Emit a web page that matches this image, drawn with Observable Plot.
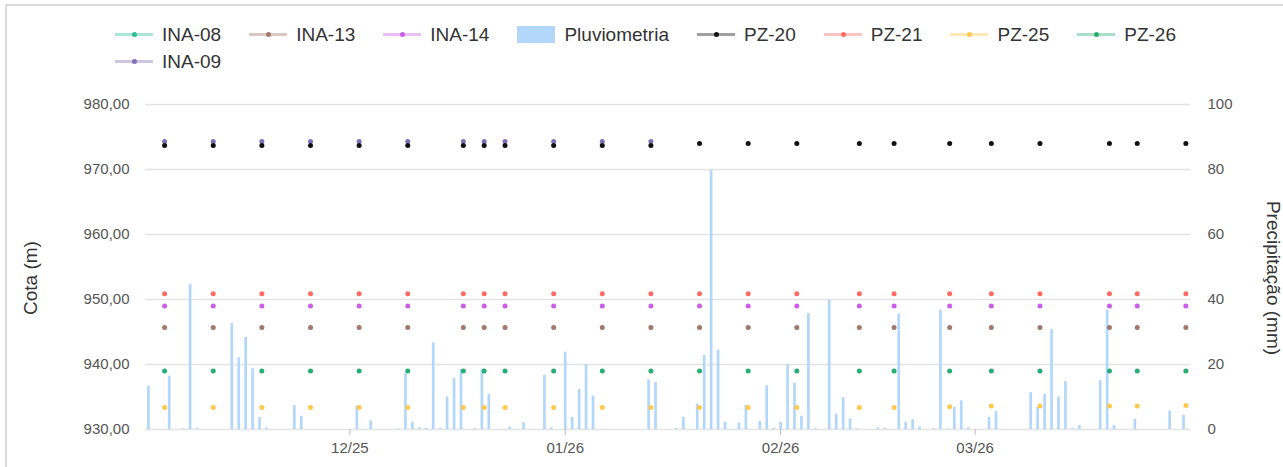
<!DOCTYPE html>
<html>
<head>
<meta charset="utf-8">
<script src="https://cdn.jsdelivr.net/npm/d3@7"></script>
<script src="https://cdn.jsdelivr.net/npm/@observablehq/plot@0.6"></script>
<style>
  html, body { margin: 0; padding: 0; background: #fff; }
  body { width: 1283px; height: 467px; overflow: hidden; position: relative; font-family: "Liberation Sans", Arial, sans-serif; }
  #card { position: absolute; left: 5px; top: 4px; width: 1400px; height: 1000px; border: 2px solid #dcdcdc; box-sizing: border-box; }
  #legend { position: relative; height: 80px; box-sizing: border-box; padding: 21px 0 0 115px; width: 1205px; display: flex; flex-wrap: wrap; align-content: flex-start; }
  .item { display: flex; align-items: center; height: 27px; margin-right: 28px; font-size: 19px; color: #333; white-space: nowrap; }
  .sw { position: relative; width: 38px; height: 17px; margin-right: 9px; }
  .sw .ln { position: absolute; left: 0; right: 0; top: 7px; height: 3px; opacity: 0.4; }
  .sw .dt { position: absolute; left: 17px; top: 6px; width: 5px; height: 5px; border-radius: 50%; }
  .sw.box { background: #b3d7fa; }
  #chart { position: relative; }
</style>
</head>
<body>
<div id="card"></div>
<div id="legend"></div>
<div id="chart"></div>
<script>
// Measurement campaign dates (water level, m)
const dates = ["2025-11-04","2025-11-11","2025-11-18","2025-11-25","2025-12-02","2025-12-09","2025-12-17","2025-12-20","2025-12-23","2025-12-30","2026-01-06","2026-01-13","2026-01-20","2026-01-27","2026-02-03","2026-02-12","2026-02-17","2026-02-25","2026-03-03","2026-03-10","2026-03-20","2026-03-24","2026-03-31"];
const N = null;
const ina08 = [N,N,N,N,N,N,N,N,N,N,N,N,N,N,N,N,N,N,N,N,N,N,N];
const ina13 = [945.7,945.7,945.7,945.7,945.7,945.7,945.7,945.7,945.7,945.7,945.7,945.7,945.7,945.7,945.7,945.7,945.7,945.7,945.7,945.7,945.7,945.7,945.7];
const ina14 = [949.0,949.0,949.0,949.0,949.0,949.0,949.0,949.0,949.0,949.0,949.0,949.0,949.0,949.0,949.0,949.0,949.0,949.0,949.0,949.0,949.0,949.0,949.0];
const ina09 = [974.3,974.3,974.3,974.3,974.3,974.3,974.3,974.3,974.3,974.3,974.3,974.3,N,N,N,N,N,N,N,N,N,N,N];
const pz20  = [973.7,973.7,973.7,973.7,973.7,973.7,973.7,973.7,973.7,973.7,973.7,973.7,974.0,974.0,974.0,974.0,974.0,974.0,974.0,974.0,974.0,974.0,974.0];
const pz21  = [950.9,950.9,950.9,950.9,950.9,950.9,950.9,950.9,950.9,950.9,950.9,950.9,950.9,950.9,950.9,950.9,950.9,950.9,950.9,950.9,950.9,950.9,950.9];
const pz25  = [933.4,933.4,933.4,933.4,933.4,933.4,933.4,933.4,933.4,933.4,933.4,933.4,933.4,933.4,933.4,933.4,933.4,933.5,933.6,933.6,933.6,933.6,933.7];
const pz26  = [939.0,939.0,939.0,939.0,939.0,939.0,939.0,939.0,939.0,939.0,939.0,939.0,939.0,939.0,939.0,939.0,939.0,939.0,939.0,939.0,939.0,939.0,939.0];

// Daily rainfall (mm)
const rainDates = ["2025-11-02","2025-11-05","2025-11-07","2025-11-08","2025-11-09","2025-11-14","2025-11-15","2025-11-16","2025-11-17","2025-11-18","2025-11-19","2025-11-23","2025-11-24","2025-12-02","2025-12-04","2025-12-08","2025-12-09","2025-12-10","2025-12-11","2025-12-12","2025-12-13","2025-12-14","2025-12-15","2025-12-16","2025-12-17","2025-12-19","2025-12-20","2025-12-21","2025-12-24","2025-12-26","2025-12-29","2025-12-30","2026-01-01","2026-01-02","2026-01-03","2026-01-04","2026-01-05","2026-01-13","2026-01-14","2026-01-17","2026-01-18","2026-01-20","2026-01-21","2026-01-22","2026-01-23","2026-01-24","2026-01-26","2026-01-27","2026-01-29","2026-01-30","2026-01-31","2026-02-01","2026-02-02","2026-02-03","2026-02-04","2026-02-05","2026-02-06","2026-02-08","2026-02-09","2026-02-10","2026-02-11","2026-02-12","2026-02-15","2026-02-16","2026-02-18","2026-02-19","2026-02-20","2026-02-21","2026-02-23","2026-02-24","2026-02-25","2026-02-26","2026-02-27","2026-02-28","2026-03-03","2026-03-04","2026-03-09","2026-03-10","2026-03-11","2026-03-12","2026-03-13","2026-03-14","2026-03-15","2026-03-16","2026-03-19","2026-03-20","2026-03-21","2026-03-24","2026-03-29","2026-03-31"];
const rainMm = [13.3,16.4,0.2,44.7,0.4,32.6,22.1,28.3,18.7,3.7,0.5,7.4,4.1,7.2,2.7,0.2,17.2,2.2,0.5,0.3,26.7,0.3,10.0,15.7,18.5,0.3,18.5,10.8,0.8,2.1,16.7,0.5,23.8,3.7,12.3,20.0,10.3,15.2,14.5,0.3,3.7,7.8,22.8,79.8,24.4,2.2,2.0,7.4,2.5,13.5,0.3,2.2,20.0,14.3,4.1,35.7,0.3,39.8,4.7,9.8,3.3,0.2,0.5,0.3,35.5,2.2,3.0,0.8,0.3,36.7,0.2,6.8,8.8,0.5,3.7,5.6,11.3,6.8,10.8,30.8,10.0,14.8,0.3,1.2,15.0,36.7,1.2,3.1,5.7,4.4];

// Axes
const cotaTicks = [930, 940, 950, 960, 970, 980];
const precipLabels = ["0", "20", "40", "60", "80", "100"];
const monthTicks = ["2025-12-01", "2026-01-01", "2026-02-01", "2026-03-01"];
const monthLabels = ["12/25", "01/26", "02/26", "03/26"];

// Series (legend order) and colours
const seriesNames = ["INA-08", "INA-13", "INA-14", "Pluviometria", "PZ-20", "PZ-21", "PZ-25", "PZ-26", "INA-09"];
const seriesColors = ["#2fbf95", "#a37868", "#cc5de8", "#b3d7fa", "#111111", "#ff6b63", "#ffc94d", "#27ae72", "#7f70b8"];
const seriesValues = { "INA-08": ina08, "INA-13": ina13, "INA-14": ina14, "PZ-20": pz20, "PZ-21": pz21, "PZ-25": pz25, "PZ-26": pz26, "INA-09": ina09 };

// Legend
const legend = document.getElementById("legend");
seriesNames.forEach((name, i) => {
  const item = document.createElement("div");
  item.className = "item";
  const sw = document.createElement("div");
  if (name === "Pluviometria") {
    sw.className = "sw box";
    sw.style.background = seriesColors[i];
  } else {
    sw.className = "sw";
    const ln = document.createElement("div"); ln.className = "ln"; ln.style.background = seriesColors[i];
    const dt = document.createElement("div"); dt.className = "dt"; dt.style.background = seriesColors[i];
    sw.appendChild(ln); sw.appendChild(dt);
  }
  const label = document.createElement("span");
  label.textContent = name;
  item.appendChild(sw); item.appendChild(label);
  legend.appendChild(item);
});

// Data tables
const mmToCota = mm => 930 + mm / 2;
const rain = rainDates.map((d, i) => ({ date: new Date(d + "T00:00:00Z"), mm: rainMm[i] }));
const drawOrder = ["INA-08", "PZ-26", "PZ-25", "INA-13", "INA-14", "PZ-21", "INA-09", "PZ-20"];
const points = [];
drawOrder.forEach(name => {
  seriesValues[name].forEach((v, i) => {
    if (v != null) points.push({ series: name, date: new Date(dates[i] + "T08:00:00Z"), value: v });
  });
});
const colorOf = name => seriesColors[seriesNames.indexOf(name)];
const monthMap = new Map(monthTicks.map((d, i) => [+new Date(d + "T00:00:00Z"), monthLabels[i]]));
const fmt = v => d3.format(".2f")(v).replace(".", ",");

const chart = Plot.plot({
  width: 1283,
  height: 387,
  marginTop: 24,
  marginBottom: 38,
  marginLeft: 145,
  marginRight: 93,
  style: { fontFamily: "'Liberation Sans', Arial, sans-serif", background: "transparent" },
  x: { type: "utc", domain: [new Date("2025-11-01T14:00:00Z"), new Date("2026-04-01T00:00:00Z")] },
  y: { domain: [930, 980] },
  marks: [
    Plot.gridY(cotaTicks, { stroke: "#e3e3e3", strokeOpacity: 1, strokeWidth: 1.3 }),
    Plot.ruleX(rain, { x: "date", y1: 930, y2: d => mmToCota(d.mm), stroke: colorOf("Pluviometria"), strokeWidth: 2.7 }),
    Plot.dot(points, { x: "date", y: "value", r: 2.5, fill: d => colorOf(d.series), stroke: null }),
    Plot.axisY({ anchor: "left", ticks: cotaTicks, tickFormat: fmt, tickSize: 0, tickPadding: 16, fontSize: 15, fill: "#555", label: null }),
    Plot.axisY({ anchor: "right", ticks: cotaTicks, tickFormat: v => precipLabels[cotaTicks.indexOf(v)], tickSize: 0, tickPadding: 17, fontSize: 15, fill: "#555", label: null }),
    Plot.axisX({ ticks: monthTicks.map(d => new Date(d + "T00:00:00Z")), tickFormat: d => monthMap.get(+d), tickSize: 6, tickPadding: 7, fontSize: 15, stroke: "#bbb", fill: "#555", label: null }),
    Plot.text(["Cota (m)"], { frameAnchor: "left", textAnchor: "middle", text: d => d, rotate: -90, dx: -115, dy: 11, fontSize: 19, fill: "#333" }),
    Plot.text(["Precipitação (mm)"], { frameAnchor: "right", textAnchor: "middle", text: d => d, rotate: 90, dx: 83, dy: 11, fontSize: 19, fill: "#333" })
  ]
});
document.getElementById("chart").appendChild(chart);
</script>
</body>
</html>
